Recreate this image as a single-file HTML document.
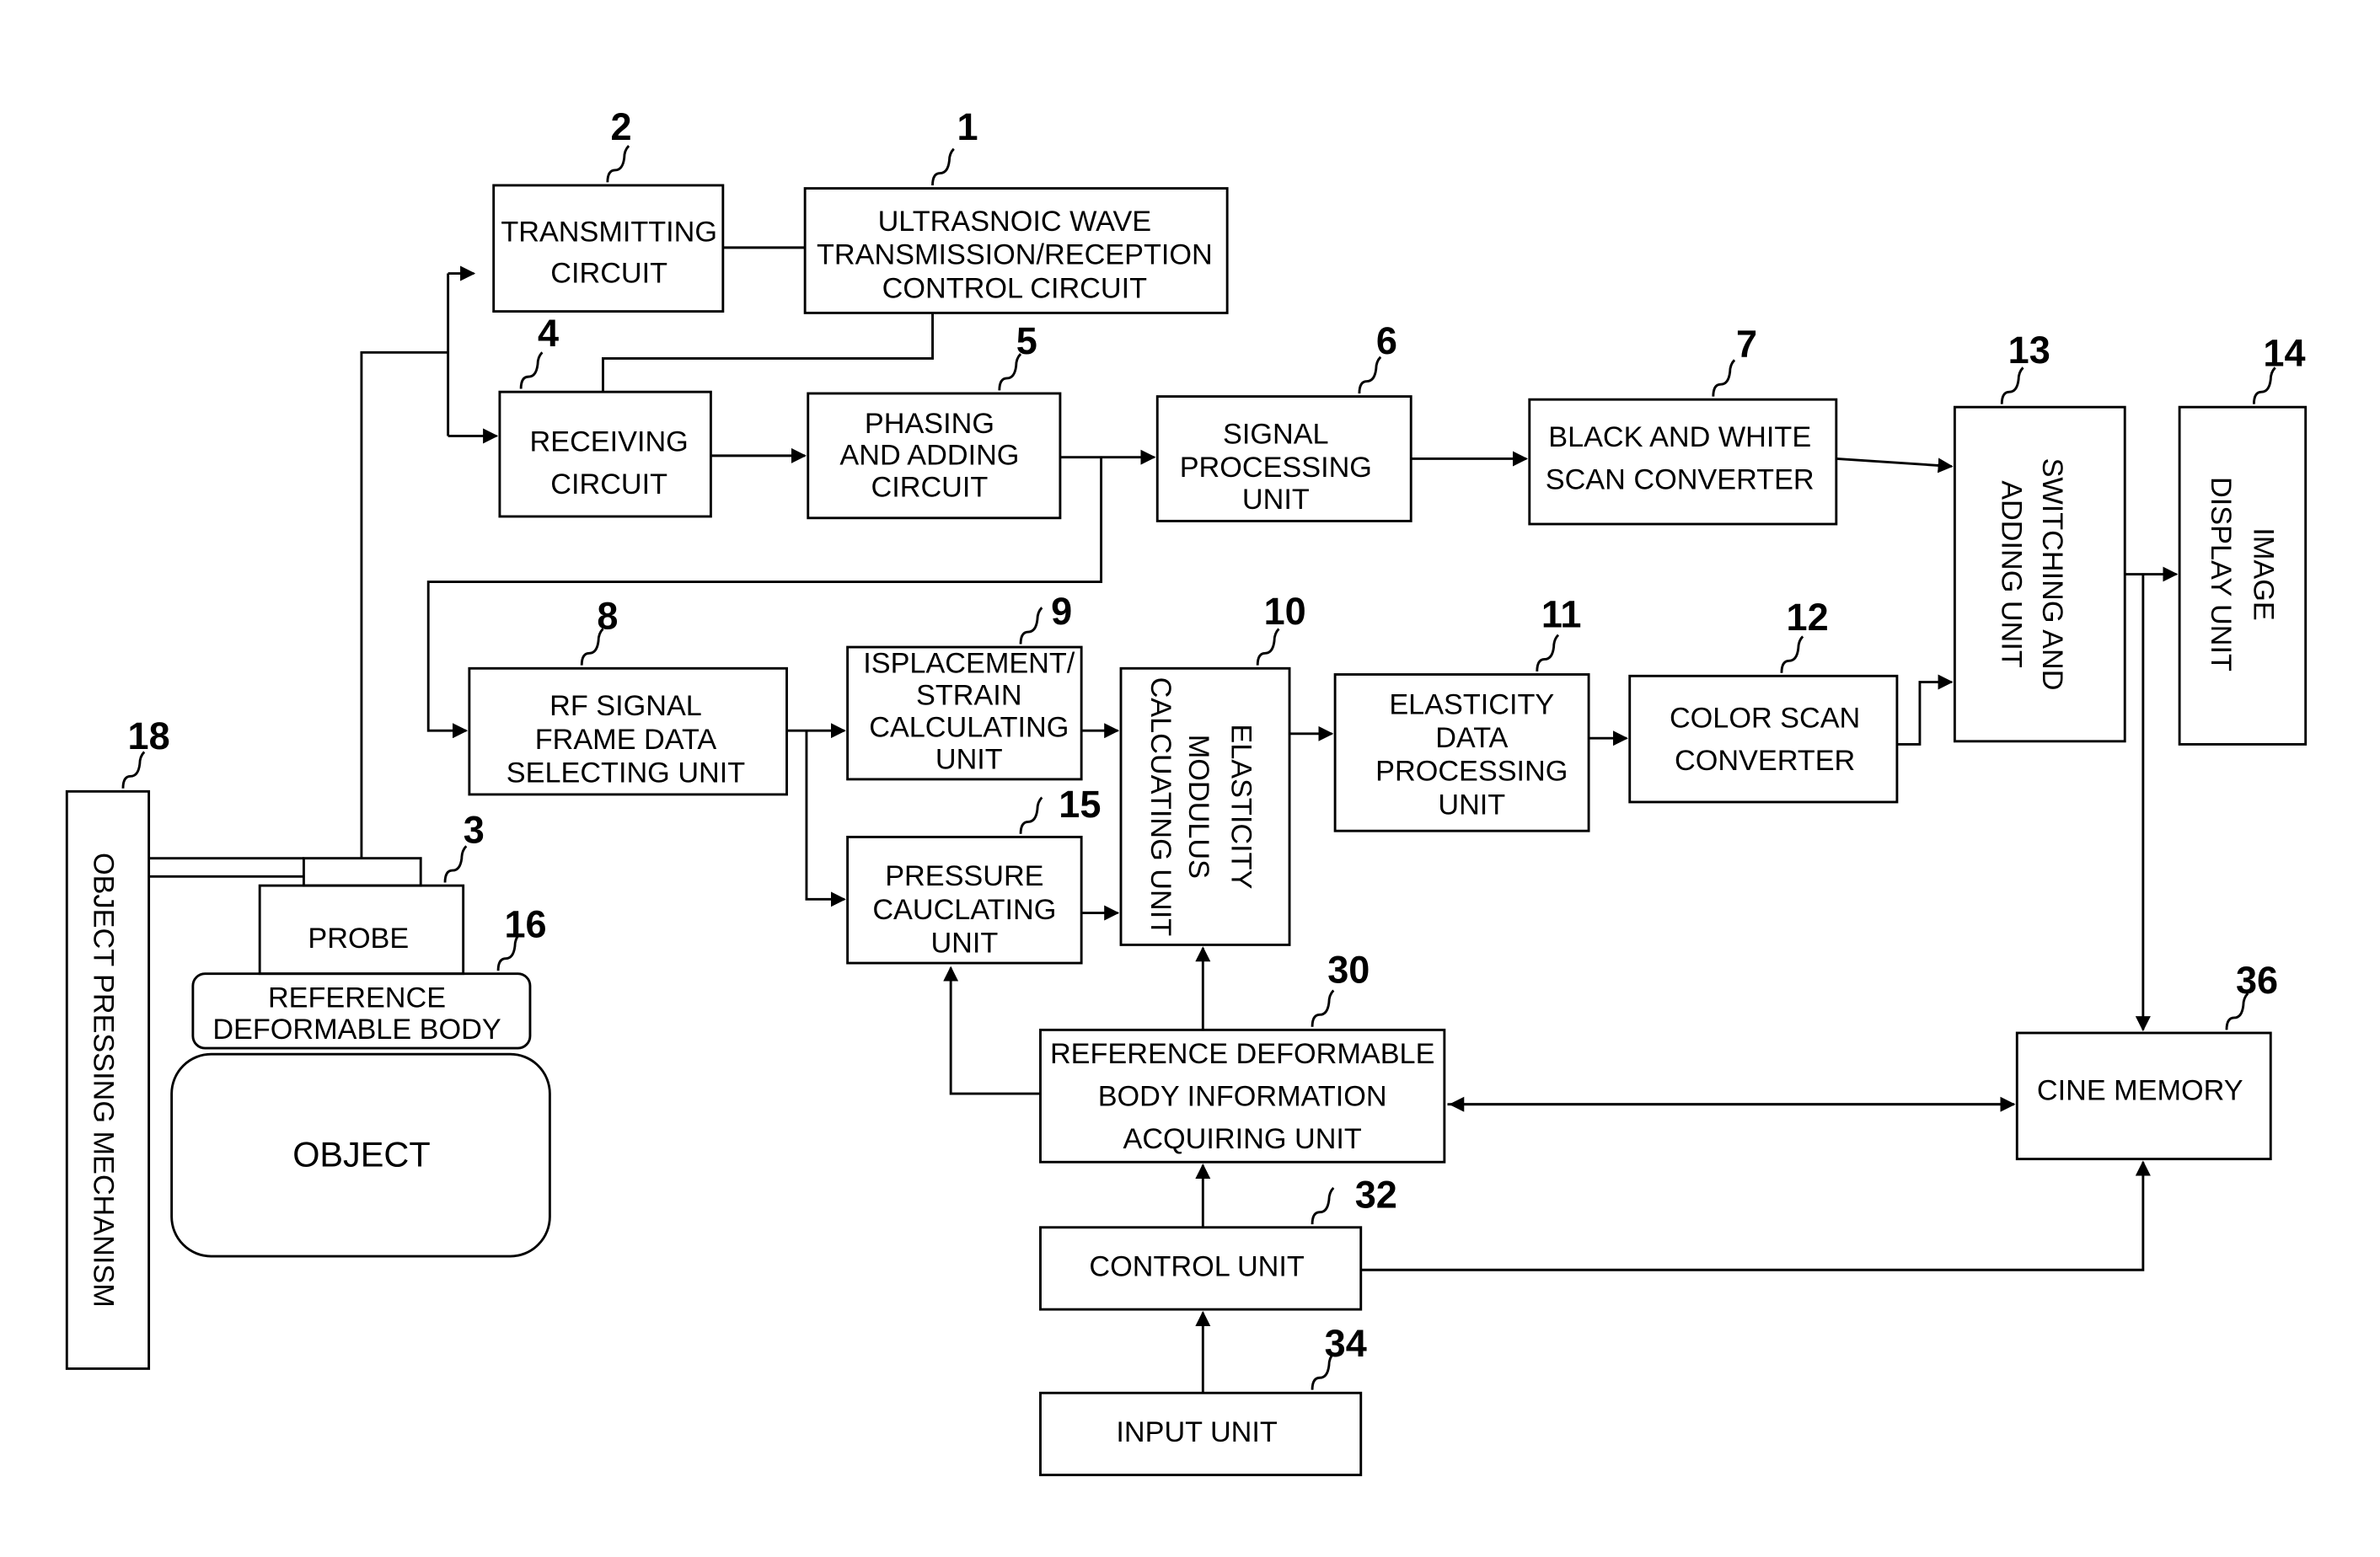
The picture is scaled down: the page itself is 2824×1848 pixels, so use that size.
<!DOCTYPE html>
<html><head><meta charset="utf-8"><style>
html,body{margin:0;padding:0;background:#fff;}
svg{display:block;}
text{font-family:"Liberation Sans",sans-serif;fill:#000;}
.t{font-size:19px;text-anchor:middle;}
.n{font-size:25px;font-weight:bold;text-anchor:middle;}
</style></head><body>
<svg width="2824" height="1848" viewBox="0 0 1567 1025" preserveAspectRatio="none" xmlns="http://www.w3.org/2000/svg">
<defs><marker id="a" markerWidth="10" markerHeight="10" refX="9" refY="5" orient="auto" markerUnits="userSpaceOnUse"><path d="M0,0 L10,5 L0,10z" fill="#000"/></marker></defs>
<g fill="none" stroke="#000" stroke-width="1.6">
<rect x="325" y="122" width="151" height="83"/>
<rect x="530" y="124" width="278" height="82"/>
<rect x="329" y="258" width="139" height="82"/>
<rect x="532" y="259" width="166" height="82"/>
<rect x="762" y="261" width="167" height="82"/>
<rect x="1007" y="263" width="202" height="82"/>
<rect x="1287" y="268" width="112" height="220"/>
<rect x="1435" y="268" width="83" height="222"/>
<rect x="309" y="440" width="209" height="83"/>
<rect x="558" y="426" width="154" height="87"/>
<rect x="738" y="440" width="111" height="182"/>
<rect x="879" y="444" width="167" height="103"/>
<rect x="1073" y="445" width="176" height="83"/>
<rect x="558" y="551" width="154" height="83"/>
<rect x="44" y="521" width="54" height="380"/>
<rect x="171" y="583" width="134" height="58"/>
<rect x="200" y="565" width="77" height="18"/>
<rect x="127" y="641" width="222" height="49" rx="8"/>
<rect x="113" y="694" width="249" height="133" rx="26"/>
<rect x="685" y="678" width="266" height="87"/>
<rect x="1328" y="680" width="167" height="83"/>
<rect x="685" y="808" width="211" height="54"/>
<rect x="685" y="917" width="211" height="54"/>
<path d="M476 163 H530"/>
<path d="M614 206 V236 H397 V258"/>
<path d="M295 180 V287" />
<path d="M295 180 H312" marker-end="url(#a)"/>
<path d="M295 287 H327" marker-end="url(#a)"/>
<path d="M238 565 V232 H295"/>
<path d="M98 565 H200 M98 577 H200"/>
<path d="M468 300 H530" marker-end="url(#a)"/>
<path d="M698 301 H760" marker-end="url(#a)"/>
<path d="M725 301 V383 H282 V481 H307" marker-end="url(#a)"/>
<path d="M929 302 H1005" marker-end="url(#a)"/>
<path d="M1209 302 L1285 307" marker-end="url(#a)"/>
<path d="M518 481 H556" marker-end="url(#a)"/>
<path d="M531 481 V592 H556" marker-end="url(#a)"/>
<path d="M712 481 H736" marker-end="url(#a)"/>
<path d="M712 601 H736" marker-end="url(#a)"/>
<path d="M849 483 H877" marker-end="url(#a)"/>
<path d="M1046 486 H1071" marker-end="url(#a)"/>
<path d="M1249 490 H1264 V449 H1285" marker-end="url(#a)"/>
<path d="M1399 378 H1433" marker-end="url(#a)"/>
<path d="M1411 378 V678" marker-end="url(#a)"/>
<path d="M792 678 V624" marker-end="url(#a)"/>
<path d="M685 720 H626 V637" marker-end="url(#a)"/>
<path d="M953 727 H1326" marker-end="url(#a)"/>
<path d="M1326 727 H955" marker-end="url(#a)"/>
<path d="M792 808 V767" marker-end="url(#a)"/>
<path d="M792 917 V864" marker-end="url(#a)"/>
<path d="M896 836 H1411 V765" marker-end="url(#a)"/>
<path d="M400 120 q0 -8 5 -8 q5 0 6 -8 q0 -5 3 -8"/>
<path d="M614 122 q0 -8 5 -8 q5 0 6 -8 q0 -5 3 -8"/>
<path d="M343 256 q0 -8 5 -8 q5 0 6 -8 q0 -5 3 -8"/>
<path d="M658 257 q0 -8 5 -8 q5 0 6 -8 q0 -5 3 -8"/>
<path d="M895 259 q0 -8 5 -8 q5 0 6 -8 q0 -5 3 -8"/>
<path d="M1128 261 q0 -8 5 -8 q5 0 6 -8 q0 -5 3 -8"/>
<path d="M1318 266 q0 -8 5 -8 q5 0 6 -8 q0 -5 3 -8"/>
<path d="M1484 266 q0 -8 5 -8 q5 0 6 -8 q0 -5 3 -8"/>
<path d="M383 438 q0 -8 5 -8 q5 0 6 -8 q0 -5 3 -8"/>
<path d="M672 424 q0 -8 5 -8 q5 0 6 -8 q0 -5 3 -8"/>
<path d="M828 438 q0 -8 5 -8 q5 0 6 -8 q0 -5 3 -8"/>
<path d="M1012 442 q0 -8 5 -8 q5 0 6 -8 q0 -5 3 -8"/>
<path d="M1173 443 q0 -8 5 -8 q5 0 6 -8 q0 -5 3 -8"/>
<path d="M672 549 q0 -8 5 -8 q5 0 6 -8 q0 -5 3 -8"/>
<path d="M81 519 q0 -8 5 -8 q5 0 6 -8 q0 -5 3 -8"/>
<path d="M293 581 q0 -8 5 -8 q5 0 6 -8 q0 -5 3 -8"/>
<path d="M328 639 q0 -8 5 -8 q5 0 6 -8 q0 -5 3 -8"/>
<path d="M864 676 q0 -8 5 -8 q5 0 6 -8 q0 -5 3 -8"/>
<path d="M1466 678 q0 -8 5 -8 q5 0 6 -8 q0 -5 3 -8"/>
<path d="M864 806 q0 -8 5 -8 q5 0 6 -8 q0 -5 3 -8"/>
<path d="M864 915 q0 -8 5 -8 q5 0 6 -8 q0 -5 3 -8"/>
</g>
<text class="n" x="409" y="92">2</text>
<text class="n" x="637" y="92">1</text>
<text class="n" x="361" y="228">4</text>
<text class="n" x="676" y="233">5</text>
<text class="n" x="913" y="233">6</text>
<text class="n" x="1150" y="235">7</text>
<text class="n" x="1336" y="239">13</text>
<text class="n" x="1504" y="241">14</text>
<text class="n" x="400" y="414">8</text>
<text class="n" x="699" y="411">9</text>
<text class="n" x="846" y="411">10</text>
<text class="n" x="1028" y="413">11</text>
<text class="n" x="1190" y="415">12</text>
<text class="n" x="711" y="538">15</text>
<text class="n" x="98" y="493">18</text>
<text class="n" x="312" y="555">3</text>
<text class="n" x="346" y="617">16</text>
<text class="n" x="888" y="647">30</text>
<text class="n" x="1486" y="654">36</text>
<text class="n" x="906" y="795">32</text>
<text class="n" x="886" y="893">34</text>
<text class="t" x="401" y="159">TRANSMITTING</text>
<text class="t" x="401" y="186">CIRCUIT</text>
<text class="t" x="668" y="152">ULTRASNOIC WAVE</text>
<text class="t" x="668" y="174">TRANSMISSION/RECEPTION</text>
<text class="t" x="668" y="196">CONTROL CIRCUIT</text>
<text class="t" x="401" y="297">RECEIVING</text>
<text class="t" x="401" y="325">CIRCUIT</text>
<text class="t" x="612" y="285">PHASING</text>
<text class="t" x="612" y="306">AND ADDING</text>
<text class="t" x="612" y="327">CIRCUIT</text>
<text class="t" x="840" y="292">SIGNAL</text>
<text class="t" x="840" y="314">PROCESSING</text>
<text class="t" x="840" y="335">UNIT</text>
<text class="t" x="1106" y="294">BLACK AND WHITE</text>
<text class="t" x="1106" y="322">SCAN CONVERTER</text>
<text class="t" x="412" y="471">RF SIGNAL</text>
<text class="t" x="412" y="493">FRAME DATA</text>
<text class="t" x="412" y="515">SELECTING UNIT</text>
<text class="t" x="638" y="443">ISPLACEMENT/</text>
<text class="t" x="638" y="464">STRAIN</text>
<text class="t" x="638" y="485">CALCULATING</text>
<text class="t" x="638" y="506">UNIT</text>
<text class="t" x="969" y="470">ELASTICITY</text>
<text class="t" x="969" y="492">DATA</text>
<text class="t" x="969" y="514">PROCESSING</text>
<text class="t" x="969" y="536">UNIT</text>
<text class="t" x="1162" y="479">COLOR SCAN</text>
<text class="t" x="1162" y="507">CONVERTER</text>
<text class="t" x="635" y="583">PRESSURE</text>
<text class="t" x="635" y="605">CAUCLATING</text>
<text class="t" x="635" y="627">UNIT</text>
<text class="t" x="236" y="624">PROBE</text>
<text class="t" x="235" y="663">REFERENCE</text>
<text class="t" x="235" y="684">DEFORMABLE BODY</text>
<text class="t" x="238" y="768" style="font-size:23px">OBJECT</text>
<text class="t" x="818" y="700">REFERENCE DEFORMABLE</text>
<text class="t" x="818" y="728">BODY INFORMATION</text>
<text class="t" x="818" y="756">ACQUIRING UNIT</text>
<text class="t" x="1409" y="724">CINE MEMORY</text>
<text class="t" x="788" y="840">CONTROL UNIT</text>
<text class="t" x="788" y="949">INPUT UNIT</text>
<g transform="translate(62,711) rotate(90)"><text class="t" x="0" y="0">OBJECT PRESSING MECHANISM</text></g>
<g transform="translate(758,531) rotate(90)"><text class="t" x="0" y="0">CALCUATING UNIT</text></g>
<g transform="translate(783,531) rotate(90)"><text class="t" x="0" y="0">MODULUS</text></g>
<g transform="translate(811,531) rotate(90)"><text class="t" x="0" y="0">ELASTICITY</text></g>
<g transform="translate(1318,378) rotate(90)"><text class="t" x="0" y="0">ADDING UNIT</text></g>
<g transform="translate(1345,378) rotate(90)"><text class="t" x="0" y="0">SWITCHING AND</text></g>
<g transform="translate(1456,378) rotate(90)"><text class="t" x="0" y="0">DISPLAY UNIT</text></g>
<g transform="translate(1484,378) rotate(90)"><text class="t" x="0" y="0">IMAGE</text></g>
</svg>
</body></html>
